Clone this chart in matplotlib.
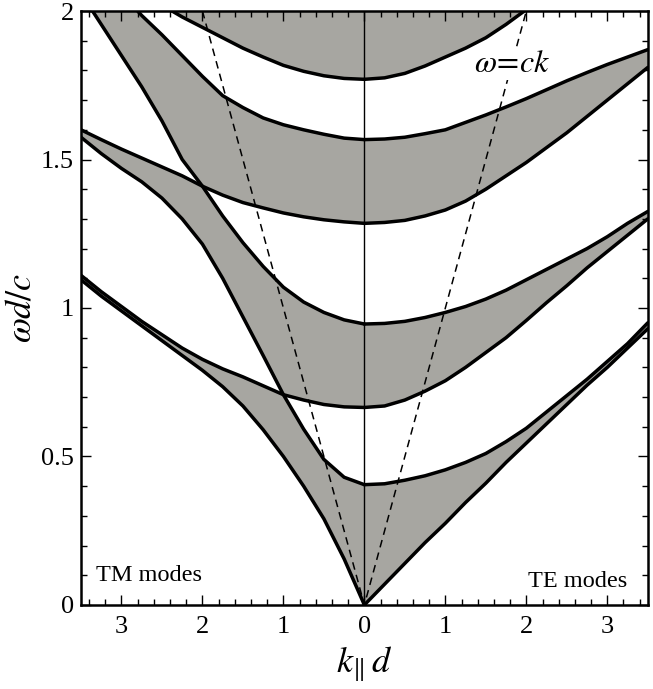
import matplotlib
matplotlib.use("Agg")
import matplotlib.pyplot as plt
import numpy as np
from matplotlib.ticker import MultipleLocator, FuncFormatter

plt.rcParams['mathtext.fontset'] = 'stix'
plt.rcParams['font.family'] = ['Liberation Serif', 'DejaVu Serif']

# |k_parallel d| sample positions
k_grid = [0.0, 0.25, 0.5, 0.75, 1.0, 1.25, 1.5, 1.75, 2.0, 2.25, 2.5, 2.75, 3.0, 3.25, 3.5]

# TE band edges (right half), omega d / c
te_c0 = [0.0, 0.07, 0.14, 0.21, 0.275, 0.345, 0.41, 0.48, 0.545, 0.61, 0.675, 0.74, 0.80, 0.865, 0.93]
te_c1 = [0.405, 0.408, 0.42, 0.435, 0.455, 0.48, 0.51, 0.55, 0.595, 0.65, 0.705, 0.76, 0.82, 0.88, 0.95]
te_c2 = [0.665, 0.67, 0.69, 0.72, 0.755, 0.80, 0.85, 0.90, 0.958, 1.018, 1.075, 1.135, 1.19, 1.245, 1.30]
te_c3 = [0.946, 0.948, 0.955, 0.968, 0.985, 1.005, 1.03, 1.06, 1.095, 1.13, 1.165, 1.20, 1.24, 1.285, 1.325]
te_c4 = [1.285, 1.288, 1.295, 1.31, 1.33, 1.36, 1.40, 1.445, 1.49, 1.54, 1.59, 1.645, 1.70, 1.755, 1.81]
te_c5 = [1.567, 1.569, 1.575, 1.587, 1.60, 1.625, 1.65, 1.677, 1.705, 1.735, 1.765, 1.793, 1.82, 1.845, 1.87]
te_c6 = [1.77, 1.775, 1.79, 1.815, 1.845, 1.875, 1.91, 1.955, 2.005, 2.06, 2.12, 2.18, 2.24, 2.30, 2.36]

# TM band edges (left half), omega d / c
tm_c0 = [0.0, 0.155, 0.29, 0.40, 0.50, 0.59, 0.67, 0.735, 0.79, 0.84, 0.89, 0.94, 0.99, 1.04, 1.095]
tm_c1 = [0.405, 0.43, 0.49, 0.592, 0.708, 0.84, 0.97, 1.10, 1.215, 1.30, 1.37, 1.425, 1.47, 1.52, 1.575]
tm_c2 = [0.665, 0.667, 0.675, 0.69, 0.708, 0.738, 0.768, 0.795, 0.827, 0.865, 0.91, 0.955, 1.005, 1.055, 1.11]
tm_c3 = [0.946, 0.96, 0.985, 1.02, 1.07, 1.14, 1.22, 1.31, 1.41, 1.50, 1.63, 1.745, 1.85, 1.955, 2.06]
tm_c4 = [1.285, 1.29, 1.297, 1.307, 1.32, 1.337, 1.355, 1.38, 1.41, 1.445, 1.475, 1.505, 1.535, 1.567, 1.60]
tm_c5 = [1.567, 1.572, 1.585, 1.60, 1.617, 1.64, 1.675, 1.715, 1.78, 1.85, 1.92, 1.985, 2.06, 2.14, 2.22]
tm_c6 = [1.77, 1.773, 1.782, 1.797, 1.817, 1.845, 1.875, 1.91, 1.945, 1.98, 2.02, 2.07, 2.12, 2.17, 2.22]

# light line omega = c k
light_k = [-2.0, 0.0, 2.0]
light_w = [2.0, 0.0, 2.0]

x_ticks = [-3, -2, -1, 0, 1, 2, 3]
y_ticks = [0, 0.5, 1.0, 1.5, 2.0]
y_tick_labels = ['0', '0.5', '1', '1.5', '2']

GRAY = '#a7a6a1'

fig = plt.figure(figsize=(6.53, 6.89), dpi=100)
ax = fig.add_axes([0.124, 0.122, 0.868, 0.862])


def draw_side(sign, curves):
    kk = np.asarray(k_grid)
    fine = np.linspace(kk[0], kk[-1], 1401)
    arr = np.array([np.interp(fine, kk, c) for c in curves])
    arr.sort(axis=0)
    x = sign * fine
    for i in range(0, len(curves), 2):
        lo = arr[i]
        hi = arr[i + 1] if i + 1 < len(curves) else np.full_like(lo, 3.0)
        ax.fill_between(x, lo, hi, color=GRAY, lw=0, zorder=1)
    for c in curves:
        ax.plot(sign * kk, c, color='black', lw=2.5, zorder=3,
                solid_capstyle='round', solid_joinstyle='round')


draw_side(1, [te_c0, te_c1, te_c2, te_c3, te_c4, te_c5, te_c6])
draw_side(-1, [tm_c0, tm_c1, tm_c2, tm_c3, tm_c4, tm_c5, tm_c6])

ax.plot(light_k, light_w, color='black', lw=1.1, dashes=(5, 3.5), zorder=2)
ax.axvline(0, color='black', lw=1.0, zorder=2)

ax.text(1.82, 1.82, r'$\omega\!=\!ck$', fontsize=23, ha='center', va='center', zorder=4,
        bbox=dict(facecolor='white', edgecolor='none', pad=1.0))
ax.text(-3.32, 0.10, 'TM modes', fontsize=17.5, ha='left', va='center')
ax.text(3.25, 0.08, 'TE modes', fontsize=17.5, ha='right', va='center')

ax.set_xlim(-3.5, 3.5)
ax.set_ylim(0, 2)
ax.set_xticks(x_ticks)
ax.xaxis.set_major_formatter(FuncFormatter(lambda v, p: '%d' % abs(round(v))))
ax.set_yticks(y_ticks)
ax.set_yticklabels(y_tick_labels)
ax.xaxis.set_minor_locator(MultipleLocator(0.2))
ax.yaxis.set_minor_locator(MultipleLocator(0.1))
ax.tick_params(which='both', direction='in', top=True, right=True, width=1.0)
ax.tick_params(which='major', length=7, labelsize=19)
ax.tick_params(axis='x', which='major', pad=8)
ax.tick_params(axis='y', which='major', pad=5)
ax.tick_params(which='minor', length=4)
for s in ax.spines.values():
    s.set_linewidth(1.8)
    s.set_zorder(5)

ax.set_xlabel(r'$k_{\|}\,d$', fontsize=26, labelpad=5)
ax.set_ylabel(r'$\omega d/c$', fontsize=26, labelpad=2)

fig.savefig('out.png', dpi=100, facecolor='white')
